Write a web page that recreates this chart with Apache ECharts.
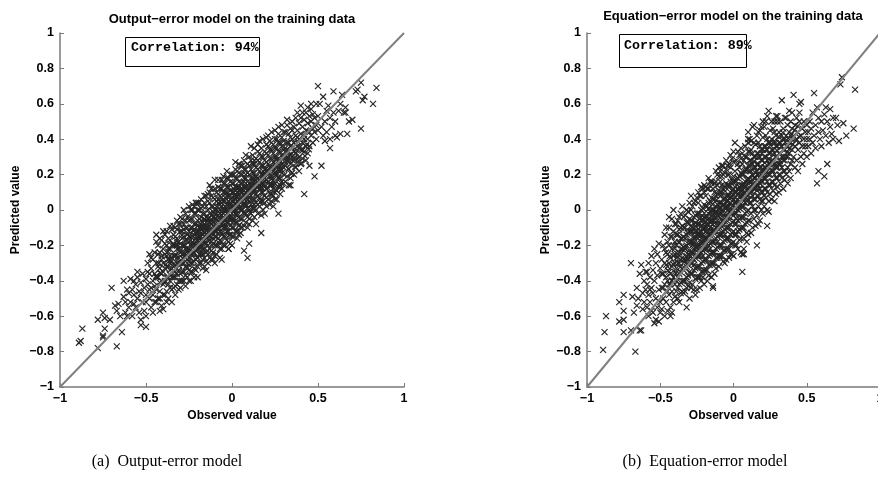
<!DOCTYPE html>
<html>
<head>
<meta charset="utf-8">
<script src="https://cdn.jsdelivr.net/npm/echarts@6/dist/echarts.min.js"></script>
<style>
html,body{margin:0;padding:0;background:#fff;}
#chart{width:878px;height:480px;}
</style>
</head>
<body>
<div id="chart"></div>
<script>
// ---------- DATA ----------
const panelTitles = ['Output\u2212error model on the training data', 'Equation\u2212error model on the training data'];
const captions = ['(a)  Output-error model', '(b)  Equation-error model'];
const correlationTexts = ['Correlation: 94%', 'Correlation: 89%'];
const xAxisName = 'Observed value';
const yAxisName = 'Predicted value';
const xTickValues = [-1, -0.5, 0, 0.5, 1];
const xTickLabels = ['\u22121', '\u22120.5', '0', '0.5', '1'];
const yTickValues = [-1, -0.8, -0.6, -0.4, -0.2, 0, 0.2, 0.4, 0.6, 0.8, 1];
const yTickLabels = ['\u22121', '\u22120.8', '\u22120.6', '\u22120.4', '\u22120.2', '0', '0.2', '0.4', '0.6', '0.8', '1'];
const identityLine = [[-1, -1], [1, 1]];

// Output-error model: [observed, predicted]
const outputErrorPoints = [
[-0.89,-0.75],[-0.88,-0.74],[-0.87,-0.67],[-0.78,-0.78],[-0.78,-0.62],[-0.75,-0.71],[-0.75,-0.72],[-0.75,-0.58],[-0.74,-0.61],[-0.74,-0.67],[-0.71,-0.62],[-0.7,-0.44],[-0.67,-0.77],[-0.67,-0.57],[-0.68,-0.54],[-0.64,-0.69],[-0.63,-0.49],[-0.63,-0.4],[-0.62,-0.58],[-0.61,-0.6],[-0.61,-0.45],[-0.62,-0.52],[-0.6,-0.55],[-0.65,-0.6],[-0.66,-0.53],
[-0.59,-0.52],[-0.58,-0.45],[-0.58,-0.6],[-0.57,-0.48],[-0.57,-0.4],[-0.56,-0.55],[-0.56,-0.42],[-0.55,-0.5],[-0.55,-0.38],[-0.54,-0.58],[-0.54,-0.46],[-0.53,-0.41],[-0.53,-0.62],[-0.52,-0.52],[-0.52,-0.36],[-0.51,-0.44],[-0.51,-0.57],[-0.5,-0.48],[-0.5,-0.39],[-0.5,-0.6],[-0.59,-0.39],[-0.6,-0.47],[-0.55,-0.35],[-0.53,-0.47],[-0.57,-0.53],[-0.5,-0.66],[-0.53,-0.65],
[-0.49,-0.42],[-0.49,-0.3],[-0.48,-0.5],[-0.48,-0.36],[-0.48,-0.25],[-0.47,-0.44],[-0.47,-0.55],[-0.47,-0.33],[-0.46,-0.4],[-0.46,-0.28],[-0.46,-0.48],[-0.45,-0.36],[-0.45,-0.52],[-0.45,-0.24],[-0.49,-0.35],[-0.48,-0.45],[-0.47,-0.27],[-0.46,-0.58],[-0.45,-0.43],[-0.5,-0.52],[-0.44,-0.14],[-0.4,-0.12],
[-0.44,-0.3],[-0.44,-0.45],[-0.44,-0.18],[-0.43,-0.38],[-0.43,-0.5],[-0.43,-0.25],[-0.42,-0.33],[-0.42,-0.16],[-0.42,-0.46],[-0.41,-0.28],[-0.41,-0.4],[-0.41,-0.54],[-0.4,-0.22],[-0.4,-0.35],[-0.4,-0.48],[-0.44,-0.38],[-0.43,-0.2],[-0.42,-0.41],[-0.41,-0.17],[-0.4,-0.3],[-0.4,-0.42],[-0.44,-0.52],[-0.43,-0.32],[-0.42,-0.24],[-0.41,-0.36],[-0.4,-0.56],[-0.42,-0.57],[-0.42,-0.5],
[-0.39,-0.25],[-0.39,-0.4],[-0.39,-0.14],[-0.38,-0.32],[-0.38,-0.46],[-0.38,-0.2],[-0.37,-0.28],[-0.37,-0.38],[-0.37,-0.16],[-0.37,-0.5],[-0.36,-0.22],[-0.36,-0.34],[-0.36,-0.44],[-0.35,-0.11],[-0.35,-0.27],[-0.35,-0.38],[-0.35,-0.52],[-0.39,-0.33],[-0.38,-0.26],[-0.38,-0.12],[-0.37,-0.42],[-0.36,-0.17],[-0.36,-0.3],[-0.35,-0.2],[-0.35,-0.45],[-0.39,-0.48],[-0.38,-0.38],[-0.37,-0.22],[-0.36,-0.4],[-0.36,-0.09],[-0.35,-0.33],[-0.39,-0.19],[-0.38,-0.52],[-0.37,-0.32],[-0.36,-0.26],
[-0.34,-0.2],[-0.34,-0.32],[-0.34,-0.44],[-0.34,-0.09],[-0.33,-0.26],[-0.33,-0.38],[-0.33,-0.15],[-0.33,-0.48],[-0.32,-0.22],[-0.32,-0.3],[-0.32,-0.06],[-0.32,-0.42],[-0.31,-0.18],[-0.31,-0.34],[-0.31,-0.27],[-0.31,-0.45],[-0.3,-0.12],[-0.3,-0.24],[-0.3,-0.36],[-0.3,-0.04],[-0.34,-0.26],[-0.33,-0.31],[-0.33,-0.1],[-0.32,-0.36],[-0.32,-0.16],[-0.31,-0.4],[-0.31,-0.08],[-0.3,-0.3],[-0.3,-0.44],[-0.3,-0.19],[-0.34,-0.38],[-0.33,-0.2],[-0.32,-0.27],[-0.31,-0.22],[-0.3,-0.4],[-0.34,-0.14],[-0.33,-0.43],[-0.32,-0.11],[-0.31,-0.3],[-0.3,-0.08],[-0.32,-0.2],
[-0.29,-0.2],[-0.29,-0.3],[-0.29,-0.05],[-0.29,-0.4],[-0.28,-0.15],[-0.28,-0.25],[-0.28,-0.35],[-0.28,0.0],[-0.27,-0.1],[-0.27,-0.22],[-0.27,-0.32],[-0.27,-0.43],[-0.26,-0.17],[-0.26,-0.28],[-0.26,-0.04],[-0.26,-0.38],[-0.25,-0.12],[-0.25,-0.24],[-0.25,-0.34],[-0.25,0.02],[-0.29,-0.25],[-0.29,-0.12],[-0.28,-0.3],[-0.28,-0.08],[-0.28,-0.4],[-0.27,-0.17],[-0.27,-0.27],[-0.27,-0.02],[-0.26,-0.22],[-0.26,-0.33],[-0.26,-0.1],[-0.25,-0.18],[-0.25,-0.29],[-0.25,-0.06],[-0.25,-0.4],[-0.29,-0.35],[-0.28,-0.2],[-0.27,-0.37],[-0.26,-0.14],[-0.25,-0.22],[-0.29,-0.16],[-0.28,-0.11],[-0.27,-0.06],[-0.26,-0.26],[-0.25,-0.31],
[-0.24,-0.15],[-0.24,-0.25],[-0.24,-0.05],[-0.24,-0.35],[-0.23,-0.1],[-0.23,-0.2],[-0.23,-0.3],[-0.23,0.03],[-0.22,-0.14],[-0.22,-0.24],[-0.22,-0.38],[-0.22,-0.02],[-0.21,-0.08],[-0.21,-0.18],[-0.21,-0.28],[-0.21,0.04],[-0.2,-0.12],[-0.2,-0.22],[-0.2,-0.32],[-0.2,0.0],[-0.24,-0.2],[-0.24,-0.1],[-0.24,-0.3],[-0.23,-0.15],[-0.23,-0.25],[-0.23,-0.05],[-0.22,-0.19],[-0.22,-0.29],[-0.22,-0.08],[-0.21,-0.13],[-0.21,-0.23],[-0.21,-0.34],[-0.21,-0.02],[-0.2,-0.17],[-0.2,-0.27],[-0.2,-0.06],[-0.24,0.0],[-0.23,-0.35],[-0.22,-0.33],[-0.21,0.04],[-0.2,0.04],[-0.2,-0.38],[-0.24,-0.4],[-0.23,-0.18],[-0.22,-0.11],[-0.21,-0.2],[-0.2,-0.15],[-0.22,0.02],[-0.23,0.0],[-0.2,-0.09],
[-0.19,-0.1],[-0.19,-0.2],[-0.19,0.0],[-0.19,-0.3],[-0.18,-0.06],[-0.18,-0.15],[-0.18,-0.25],[-0.18,0.06],[-0.17,-0.12],[-0.17,-0.22],[-0.17,-0.02],[-0.17,-0.33],[-0.16,-0.08],[-0.16,-0.17],[-0.16,-0.27],[-0.16,0.04],[-0.15,-0.04],[-0.15,-0.14],[-0.15,-0.24],[-0.15,0.08],[-0.19,-0.15],[-0.19,-0.05],[-0.19,-0.25],[-0.18,-0.1],[-0.18,-0.2],[-0.18,0.01],[-0.17,-0.17],[-0.17,-0.07],[-0.17,-0.28],[-0.16,-0.13],[-0.16,-0.22],[-0.16,-0.02],[-0.15,-0.1],[-0.15,-0.19],[-0.15,-0.29],[-0.15,0.02],[-0.19,0.04],[-0.18,-0.3],[-0.17,0.02],[-0.16,-0.32],[-0.16,0.08],[-0.15,-0.34],[-0.19,-0.12],[-0.18,-0.17],[-0.17,-0.14],[-0.16,-0.05],[-0.15,-0.07],[-0.18,-0.04],[-0.17,-0.25],[-0.16,-0.19],[-0.19,-0.22],[-0.18,-0.08],[-0.17,-0.1],[-0.16,-0.1],[-0.15,-0.16],
[-0.14,-0.05],[-0.14,-0.15],[-0.14,0.05],[-0.14,-0.25],[-0.13,-0.02],[-0.13,-0.12],[-0.13,-0.22],[-0.13,0.1],[-0.12,-0.08],[-0.12,-0.18],[-0.12,0.02],[-0.12,-0.28],[-0.11,-0.04],[-0.11,-0.14],[-0.11,-0.24],[-0.11,0.07],[-0.1,0.0],[-0.1,-0.1],[-0.1,-0.2],[-0.1,0.12],[-0.14,-0.1],[-0.14,0.0],[-0.14,-0.2],[-0.13,-0.07],[-0.13,-0.17],[-0.13,0.04],[-0.12,-0.13],[-0.12,-0.03],[-0.12,-0.23],[-0.11,-0.09],[-0.11,-0.19],[-0.11,0.02],[-0.1,-0.05],[-0.1,-0.15],[-0.1,-0.26],[-0.1,0.06],[-0.14,-0.3],[-0.13,0.14],[-0.12,0.08],[-0.11,-0.28],[-0.1,0.17],[-0.1,-0.3],[-0.14,-0.08],[-0.13,-0.14],[-0.12,-0.11],[-0.11,-0.01],[-0.1,-0.12],[-0.13,-0.27],[-0.12,0.12],[-0.11,-0.16],[-0.14,0.09],[-0.13,-0.04],[-0.12,-0.06],[-0.11,-0.07],[-0.1,-0.02],
[-0.09,0.0],[-0.09,-0.1],[-0.09,0.1],[-0.09,-0.2],[-0.08,0.04],[-0.08,-0.06],[-0.08,-0.16],[-0.08,0.13],[-0.07,-0.02],[-0.07,-0.12],[-0.07,0.08],[-0.07,-0.22],[-0.06,0.02],[-0.06,-0.08],[-0.06,-0.18],[-0.06,0.12],[-0.05,0.05],[-0.05,-0.05],[-0.05,-0.15],[-0.05,0.15],[-0.09,-0.05],[-0.09,0.05],[-0.09,-0.15],[-0.08,-0.01],[-0.08,-0.11],[-0.08,0.09],[-0.07,-0.07],[-0.07,0.03],[-0.07,-0.17],[-0.06,-0.03],[-0.06,-0.13],[-0.06,0.07],[-0.05,0.0],[-0.05,-0.1],[-0.05,-0.2],[-0.05,0.1],[-0.09,-0.25],[-0.08,0.17],[-0.07,-0.27],[-0.06,0.17],[-0.06,-0.28],[-0.05,0.19],[-0.09,0.02],[-0.08,-0.08],[-0.07,-0.04],[-0.06,-0.05],[-0.05,-0.02],[-0.08,0.06],[-0.07,0.12],[-0.06,-0.22],[-0.09,-0.12],[-0.08,-0.2],[-0.07,0.0],[-0.06,0.04],[-0.05,-0.07],
[-0.04,0.05],[-0.04,-0.05],[-0.04,0.15],[-0.04,-0.15],[-0.03,0.08],[-0.03,-0.02],[-0.03,-0.12],[-0.03,0.18],[-0.02,0.03],[-0.02,-0.07],[-0.02,0.13],[-0.02,-0.22],[-0.01,0.06],[-0.01,-0.04],[-0.01,-0.14],[-0.01,0.16],[0.0,0.1],[0.0,0.0],[0.0,-0.1],[0.0,0.2],[-0.04,0.0],[-0.04,0.1],[-0.04,-0.1],[-0.03,0.03],[-0.03,-0.07],[-0.03,0.13],[-0.02,-0.02],[-0.02,0.08],[-0.02,-0.12],[-0.01,0.01],[-0.01,-0.09],[-0.01,0.11],[0.0,0.05],[0.0,-0.05],[0.0,-0.15],[0.0,0.15],[-0.04,-0.2],[-0.03,0.22],[-0.02,-0.18],[-0.01,0.2],[-0.01,-0.19],[0.0,-0.2],[-0.04,0.07],[-0.03,0.0],[-0.02,0.05],[-0.01,0.03],[0.0,0.02],[-0.03,-0.17],[-0.02,0.18],[-0.01,-0.06],[-0.04,-0.08],[-0.03,0.1],[-0.02,-0.04],[-0.01,0.08],[0.0,-0.02],
[0.01,0.1],[0.01,0.0],[0.01,0.2],[0.01,-0.1],[0.02,0.13],[0.02,0.03],[0.02,-0.07],[0.02,0.23],[0.03,0.08],[0.03,-0.02],[0.03,0.18],[0.03,-0.12],[0.04,0.11],[0.04,0.01],[0.04,-0.09],[0.04,0.21],[0.05,0.15],[0.05,0.05],[0.05,-0.05],[0.05,0.25],[0.01,0.05],[0.01,0.15],[0.01,-0.05],[0.02,0.08],[0.02,-0.02],[0.02,0.18],[0.03,0.03],[0.03,0.13],[0.03,-0.07],[0.04,0.06],[0.04,-0.04],[0.04,0.16],[0.05,0.1],[0.05,0.0],[0.05,-0.1],[0.05,0.2],[0.01,-0.15],[0.02,0.27],[0.03,-0.16],[0.04,0.26],[0.04,-0.14],[0.05,-0.13],[0.01,0.08],[0.02,0.11],[0.03,0.05],[0.04,0.09],[0.05,0.07],[0.02,-0.12],[0.03,0.22],[0.04,0.03],[0.01,0.12],[0.02,0.0],[0.03,0.1],[0.04,0.13],[0.05,0.12],
[0.06,0.15],[0.06,0.05],[0.06,0.25],[0.06,-0.05],[0.07,0.18],[0.07,0.08],[0.07,-0.02],[0.07,0.28],[0.08,0.13],[0.08,0.03],[0.08,0.23],[0.08,-0.07],[0.09,0.16],[0.09,0.06],[0.09,-0.04],[0.09,0.26],[0.1,0.2],[0.1,0.1],[0.1,0.0],[0.1,0.3],[0.06,0.1],[0.06,0.2],[0.06,0.0],[0.07,0.13],[0.07,0.03],[0.07,0.23],[0.08,0.08],[0.08,0.18],[0.08,-0.02],[0.09,0.11],[0.09,0.01],[0.09,0.21],[0.1,0.15],[0.1,0.05],[0.1,-0.05],[0.1,0.25],[0.06,-0.1],[0.07,-0.09],[0.08,0.31],[0.09,-0.1],[0.1,-0.08],[0.06,0.12],[0.07,0.16],[0.08,0.1],[0.09,0.14],[0.1,0.12],[0.07,0.06],[0.08,0.2],[0.09,0.08],[0.06,0.03],[0.07,-0.23],[0.09,-0.27],[0.1,-0.19],[0.17,-0.13],[-0.02,-0.22],[-0.19,-0.21],[-0.32,-0.2],
[0.11,0.18],[0.11,0.08],[0.11,0.28],[0.11,-0.02],[0.12,0.21],[0.12,0.11],[0.12,0.01],[0.12,0.31],[0.13,0.16],[0.13,0.06],[0.13,0.26],[0.13,-0.04],[0.14,0.19],[0.14,0.09],[0.14,0.29],[0.14,0.0],[0.15,0.23],[0.15,0.13],[0.15,0.03],[0.15,0.33],[0.11,0.13],[0.11,0.23],[0.12,0.16],[0.12,0.06],[0.12,0.26],[0.13,0.11],[0.13,0.21],[0.13,0.01],[0.14,0.14],[0.14,0.24],[0.14,0.04],[0.15,0.18],[0.15,0.08],[0.15,0.28],[0.11,0.36],[0.12,-0.06],[0.13,0.35],[0.14,-0.08],[0.15,-0.02],[0.11,0.03],[0.12,0.18],[0.13,0.14],[0.14,0.17],[0.15,0.37],[0.13,0.28],
[0.16,0.22],[0.16,0.12],[0.16,0.32],[0.16,0.02],[0.17,0.25],[0.17,0.15],[0.17,0.05],[0.17,0.35],[0.18,0.2],[0.18,0.1],[0.18,0.3],[0.18,0.0],[0.19,0.23],[0.19,0.13],[0.19,0.33],[0.19,0.04],[0.2,0.27],[0.2,0.17],[0.2,0.07],[0.2,0.37],[0.16,0.17],[0.16,0.27],[0.16,0.07],[0.17,0.2],[0.17,0.3],[0.17,0.1],[0.18,0.15],[0.18,0.25],[0.18,0.05],[0.19,0.18],[0.19,0.28],[0.19,0.08],[0.2,0.22],[0.2,0.12],[0.2,0.32],[0.16,0.39],[0.17,-0.03],[0.18,0.4],[0.19,-0.02],[0.2,0.41],[0.2,0.02],[0.17,0.13],[0.18,0.22],[0.19,0.2],[0.16,0.14],
[0.21,0.26],[0.21,0.16],[0.21,0.36],[0.21,0.06],[0.22,0.29],[0.22,0.19],[0.22,0.09],[0.22,0.39],[0.23,0.24],[0.23,0.14],[0.23,0.34],[0.23,0.05],[0.24,0.27],[0.24,0.17],[0.24,0.37],[0.24,0.08],[0.25,0.3],[0.25,0.2],[0.25,0.1],[0.25,0.4],[0.21,0.21],[0.21,0.31],[0.22,0.24],[0.22,0.14],[0.22,0.34],[0.23,0.19],[0.23,0.29],[0.23,0.09],[0.24,0.22],[0.24,0.32],[0.24,0.12],[0.25,0.25],[0.25,0.35],[0.25,0.15],[0.21,0.42],[0.22,0.03],[0.23,0.44],[0.24,0.02],[0.25,0.45],[0.25,0.06],
[0.26,0.3],[0.26,0.2],[0.26,0.4],[0.26,0.11],[0.27,0.33],[0.27,0.23],[0.27,0.13],[0.27,0.43],[0.28,0.28],[0.28,0.18],[0.28,0.38],[0.28,0.09],[0.29,0.31],[0.29,0.21],[0.29,0.41],[0.29,0.12],[0.3,0.34],[0.3,0.24],[0.3,0.15],[0.3,0.44],[0.26,0.25],[0.26,0.35],[0.27,0.28],[0.27,0.18],[0.27,0.38],[0.28,0.23],[0.28,0.33],[0.28,0.14],[0.29,0.26],[0.29,0.36],[0.3,0.29],[0.3,0.39],[0.27,0.47],[0.29,0.48],[0.26,0.06],[0.27,-0.02],
[0.31,0.35],[0.31,0.25],[0.31,0.44],[0.31,0.16],[0.32,0.38],[0.32,0.28],[0.32,0.19],[0.32,0.48],[0.33,0.33],[0.33,0.23],[0.33,0.43],[0.33,0.14],[0.34,0.36],[0.34,0.26],[0.34,0.46],[0.34,0.18],[0.35,0.4],[0.35,0.3],[0.35,0.21],[0.35,0.5],[0.31,0.3],[0.32,0.33],[0.32,0.51],[0.33,0.38],[0.33,0.28],[0.34,0.31],[0.34,0.41],[0.35,0.35],[0.35,0.45],[0.34,0.14],
[0.36,0.38],[0.36,0.28],[0.36,0.47],[0.36,0.2],[0.37,0.42],[0.37,0.32],[0.37,0.52],[0.37,0.24],[0.38,0.36],[0.38,0.45],[0.38,0.27],[0.38,0.55],[0.39,0.4],[0.39,0.3],[0.39,0.49],[0.39,0.22],[0.4,0.43],[0.4,0.34],[0.4,0.52],[0.4,0.26],[0.36,0.33],[0.37,0.37],[0.38,0.41],[0.39,0.35],[0.4,0.59],
[0.41,0.38],[0.41,0.47],[0.41,0.29],[0.41,0.55],[0.42,0.42],[0.42,0.33],[0.42,0.51],[0.43,0.45],[0.43,0.36],[0.43,0.55],[0.43,0.28],[0.44,0.4],[0.44,0.49],[0.44,0.32],[0.45,0.44],[0.45,0.53],[0.45,0.36],[0.42,0.09],[0.44,0.58],[0.45,0.25],
[0.46,0.42],[0.46,0.5],[0.46,0.57],[0.47,0.46],[0.47,0.38],[0.47,0.54],[0.48,0.44],[0.48,0.52],[0.48,0.19],[0.49,0.4],[0.49,0.48],[0.49,0.6],[0.5,0.45],[0.5,0.7],[0.5,0.53],[0.46,0.6],
[0.51,0.6],[0.52,0.25],[0.52,0.47],[0.53,0.64],[0.53,0.42],[0.54,0.39],[0.54,0.5],[0.55,0.56],[0.55,0.44],[0.56,0.59],[0.57,0.35],[0.57,0.4],[0.57,0.52],[0.58,0.47],[0.59,0.67],[0.59,0.55],[0.6,0.42],[0.6,0.5],
[0.61,0.41],[0.62,0.56],[0.63,0.43],[0.63,0.6],[0.65,0.55],[0.66,0.58],[0.67,0.43],[0.68,0.5],[0.7,0.51],[0.72,0.67],[0.73,0.68],[0.75,0.72],[0.75,0.46],[0.76,0.62],[0.77,0.64],[0.82,0.6],[0.84,0.69],[0.66,0.55],[0.64,0.65],
[-0.441,-0.372],[-0.426,-0.301],[-0.417,-0.356],[-0.409,-0.262],[-0.392,-0.411],[-0.386,-0.309],[-0.371,-0.235],[-0.362,-0.362],[-0.355,-0.284],[-0.343,-0.193],[-0.334,-0.351],[-0.329,-0.251],[-0.321,-0.176],[-0.307,-0.315],[-0.296,-0.224],[-0.291,-0.143],[-0.286,-0.274],[-0.274,-0.199],[-0.265,-0.321],[-0.261,-0.236],[-0.249,-0.148],[-0.244,-0.273],[-0.233,-0.184],[-0.228,-0.116],[-0.221,-0.243],[-0.209,-0.164],[-0.203,-0.266],[-0.197,-0.175],[-0.186,-0.097],[-0.181,-0.211],[-0.174,-0.134],[-0.161,-0.055],[-0.156,-0.183],[-0.147,-0.116],[-0.143,-0.229],[-0.131,-0.148],[-0.124,-0.071],[-0.119,-0.196],[-0.107,-0.114],[-0.103,-0.037],[-0.092,-0.149],[-0.088,-0.084],[-0.077,-0.184],[-0.073,-0.106],[-0.062,-0.026],[-0.058,-0.139],[-0.046,-0.058],[-0.042,0.021],[-0.034,-0.096],[-0.023,-0.021],[-0.017,-0.141],[-0.012,-0.049],[-0.003,0.037],[0.007,-0.066],[0.012,0.015],[0.022,0.084],[0.029,-0.034],[0.034,0.051],[0.044,-0.083],[0.049,0.017],[0.057,0.096],[0.067,-0.015],[0.072,0.064],[0.082,0.133],[0.087,0.027],[0.094,0.106],[0.104,-0.014],[0.112,0.064],[0.116,0.145],[0.127,0.033],[0.134,0.116],[0.139,0.185],[0.149,0.076],[0.154,0.149],[0.164,0.044],[0.169,0.121],[0.177,0.196],[0.187,0.081],[0.192,0.165],[0.199,0.233],[0.209,0.124],[0.214,0.207],[0.224,0.093],[0.229,0.174],[0.239,0.243],[0.244,0.141],[0.254,0.216],[0.259,0.284],[0.269,0.184],[0.274,0.253],[0.284,0.154],[0.289,0.226],[0.299,0.295],[0.304,0.197],[0.314,0.265],[0.319,0.342],[0.329,0.233],[0.334,0.312],[0.344,0.204],[0.349,0.282],[0.357,0.355],[0.367,0.245],[0.372,0.324],[0.382,0.388],[0.387,0.292],[0.397,0.358],[0.404,0.265],[0.409,0.336],[0.419,0.401],[0.424,0.305],[0.434,0.371],[0.439,0.446],[0.447,0.343],
[-0.153,-0.087],[-0.138,-0.046],[-0.084,-0.032],[-0.069,0.046],[0.016,0.062],[0.063,0.117],[0.091,0.057],[0.121,0.098],[0.182,0.142],[0.226,0.148],[-0.231,-0.212],[-0.276,-0.262],[-0.198,-0.131],[-0.052,0.008],[0.147,0.128],[0.277,0.219],[0.324,0.296],[0.366,0.297],[-0.341,-0.307],[-0.372,-0.276]
];

// Equation-error model: [observed, predicted]
const equationErrorPoints = [
[-0.89,-0.79],[-0.88,-0.69],[-0.87,-0.6],[-0.78,-0.63],[-0.75,-0.69],[-0.75,-0.62],[-0.75,-0.57],[-0.78,-0.52],[-0.75,-0.48],[-0.7,-0.3],[-0.68,-0.58],[-0.69,-0.49],[-0.67,-0.8],[-0.64,-0.68],[-0.7,-0.68],[-0.63,-0.31],[-0.64,-0.36],[-0.66,-0.44],[-0.61,-0.52],[-0.65,-0.5],[-0.62,-0.47],[-0.63,-0.68],[-0.66,-0.54],[-0.61,-0.4],[-0.62,-0.56],[-0.6,-0.45],[-0.6,-0.35],
[-0.59,-0.42],[-0.59,-0.55],[-0.58,-0.3],[-0.58,-0.48],[-0.58,-0.6],[-0.57,-0.38],[-0.57,-0.52],[-0.56,-0.26],[-0.56,-0.44],[-0.56,-0.57],[-0.55,-0.34],[-0.55,-0.47],[-0.54,-0.22],[-0.54,-0.4],[-0.54,-0.64],[-0.53,-0.5],[-0.53,-0.3],[-0.53,-0.62],[-0.52,-0.37],[-0.52,-0.55],[-0.52,-0.25],[-0.51,-0.45],[-0.51,-0.19],[-0.51,-0.63],[-0.5,-0.33],[-0.5,-0.52],[-0.5,-0.58],[-0.55,-0.58],[-0.57,-0.45],[-0.59,-0.35],
[-0.49,-0.28],[-0.49,-0.44],[-0.49,-0.56],[-0.48,-0.2],[-0.48,-0.36],[-0.48,-0.5],[-0.47,-0.14],[-0.47,-0.3],[-0.47,-0.42],[-0.47,-0.6],[-0.46,-0.24],[-0.46,-0.38],[-0.46,-0.52],[-0.46,-0.1],[-0.45,-0.32],[-0.45,-0.46],[-0.45,-0.18],[-0.45,-0.57],[-0.49,-0.36],[-0.48,-0.44],[-0.47,-0.22],[-0.46,-0.31],[-0.45,-0.4],[-0.44,-0.04],[-0.45,-0.25],
[-0.44,-0.2],[-0.44,-0.35],[-0.44,-0.48],[-0.44,-0.1],[-0.43,-0.27],[-0.43,-0.42],[-0.43,-0.55],[-0.43,-0.15],[-0.42,-0.32],[-0.42,-0.22],[-0.42,-0.46],[-0.42,-0.05],[-0.41,-0.38],[-0.41,-0.26],[-0.41,-0.12],[-0.41,-0.52],[-0.4,-0.3],[-0.4,-0.18],[-0.4,-0.42],[-0.4,-0.08],[-0.44,-0.3],[-0.43,-0.36],[-0.42,-0.4],[-0.42,-0.58],[-0.41,-0.2],[-0.4,-0.35],[-0.4,-0.49],[-0.43,-0.6],[-0.41,0.0],[-0.44,-0.42],[-0.42,-0.15],[-0.4,-0.25],
[-0.39,-0.2],[-0.39,-0.33],[-0.39,-0.46],[-0.39,-0.08],[-0.38,-0.25],[-0.38,-0.38],[-0.38,-0.14],[-0.38,-0.5],[-0.37,-0.3],[-0.37,-0.18],[-0.37,-0.42],[-0.37,-0.04],[-0.36,-0.22],[-0.36,-0.35],[-0.36,-0.1],[-0.36,-0.47],[-0.35,-0.27],[-0.35,-0.16],[-0.35,-0.4],[-0.35,0.02],[-0.39,-0.27],[-0.39,-0.4],[-0.38,-0.3],[-0.38,-0.06],[-0.37,-0.24],[-0.37,-0.36],[-0.37,-0.52],[-0.36,-0.28],[-0.36,-0.16],[-0.35,-0.33],[-0.35,-0.22],[-0.35,-0.46],[-0.39,-0.14],[-0.38,-0.44],[-0.37,-0.11],[-0.36,-0.41],[-0.35,-0.09],[-0.36,-0.02],
[-0.34,-0.15],[-0.34,-0.28],[-0.34,-0.4],[-0.34,-0.04],[-0.33,-0.22],[-0.33,-0.33],[-0.33,-0.1],[-0.33,-0.46],[-0.32,-0.26],[-0.32,-0.14],[-0.32,-0.38],[-0.32,0.0],[-0.31,-0.19],[-0.31,-0.31],[-0.31,-0.07],[-0.31,-0.43],[-0.3,-0.23],[-0.3,-0.12],[-0.3,-0.35],[-0.3,0.04],[-0.34,-0.21],[-0.34,-0.34],[-0.33,-0.16],[-0.33,-0.28],[-0.33,-0.4],[-0.32,-0.2],[-0.32,-0.32],[-0.32,-0.07],[-0.31,-0.25],[-0.31,-0.13],[-0.31,-0.37],[-0.3,-0.29],[-0.3,-0.17],[-0.3,-0.41],[-0.3,-0.05],[-0.34,-0.1],[-0.33,-0.03],[-0.32,-0.44],[-0.31,-0.01],[-0.3,-0.5],[-0.32,-0.55],[-0.34,-0.47],[-0.33,-0.22],[-0.31,-0.28],[-0.3,-0.26],
[-0.29,-0.12],[-0.29,-0.24],[-0.29,-0.36],[-0.29,0.0],[-0.28,-0.18],[-0.28,-0.3],[-0.28,-0.06],[-0.28,-0.42],[-0.27,-0.22],[-0.27,-0.1],[-0.27,-0.34],[-0.27,0.04],[-0.26,-0.15],[-0.26,-0.27],[-0.26,-0.03],[-0.26,-0.39],[-0.25,-0.2],[-0.25,-0.08],[-0.25,-0.32],[-0.25,0.07],[-0.29,-0.18],[-0.29,-0.3],[-0.29,-0.06],[-0.28,-0.24],[-0.28,-0.12],[-0.28,-0.36],[-0.27,-0.16],[-0.27,-0.28],[-0.27,-0.04],[-0.26,-0.21],[-0.26,-0.09],[-0.26,-0.33],[-0.25,-0.26],[-0.25,-0.14],[-0.25,-0.38],[-0.25,-0.02],[-0.29,-0.44],[-0.28,0.02],[-0.27,-0.45],[-0.26,0.05],[-0.25,-0.45],[-0.26,-0.48],[-0.29,-0.09],[-0.28,-0.2],[-0.27,-0.19],[-0.26,-0.12],[-0.25,-0.23],[-0.27,-0.31],[-0.28,-0.27],[-0.29,0.08],
[-0.24,-0.08],[-0.24,-0.2],[-0.24,-0.32],[-0.24,0.04],[-0.23,-0.14],[-0.23,-0.26],[-0.23,-0.02],[-0.23,-0.38],[-0.22,-0.18],[-0.22,-0.06],[-0.22,-0.3],[-0.22,0.08],[-0.21,-0.11],[-0.21,-0.23],[-0.21,0.01],[-0.21,-0.35],[-0.2,-0.16],[-0.2,-0.04],[-0.2,-0.28],[-0.2,0.1],[-0.24,-0.14],[-0.24,-0.26],[-0.24,-0.02],[-0.23,-0.2],[-0.23,-0.08],[-0.23,-0.32],[-0.22,-0.12],[-0.22,-0.24],[-0.22,0.0],[-0.21,-0.17],[-0.21,-0.05],[-0.21,-0.29],[-0.2,-0.22],[-0.2,-0.1],[-0.2,-0.34],[-0.2,0.03],[-0.24,-0.38],[-0.23,0.08],[-0.22,-0.4],[-0.21,0.12],[-0.2,-0.42],[-0.22,0.13],[-0.24,0.1],[-0.23,-0.44],[-0.21,-0.38],[-0.2,0.14],[-0.24,-0.11],[-0.23,-0.17],[-0.22,-0.09],[-0.21,-0.14],[-0.2,-0.19],[-0.22,-0.35],[-0.21,-0.26],[-0.23,-0.05],[-0.2,-0.07],
[-0.19,-0.04],[-0.19,-0.16],[-0.19,-0.28],[-0.19,0.08],[-0.18,-0.1],[-0.18,-0.22],[-0.18,0.02],[-0.18,-0.34],[-0.17,-0.14],[-0.17,-0.02],[-0.17,-0.26],[-0.17,0.12],[-0.16,-0.07],[-0.16,-0.19],[-0.16,0.05],[-0.16,-0.31],[-0.15,-0.12],[-0.15,0.0],[-0.15,-0.24],[-0.15,0.15],[-0.19,-0.1],[-0.19,-0.22],[-0.19,0.02],[-0.18,-0.16],[-0.18,-0.04],[-0.18,-0.28],[-0.17,-0.08],[-0.17,-0.2],[-0.17,0.04],[-0.16,-0.13],[-0.16,-0.01],[-0.16,-0.25],[-0.15,-0.18],[-0.15,-0.06],[-0.15,-0.3],[-0.15,0.07],[-0.19,-0.34],[-0.18,0.12],[-0.17,-0.37],[-0.16,0.16],[-0.15,-0.38],[-0.14,-0.44],[-0.15,0.16],[-0.19,0.13],[-0.18,-0.4],[-0.17,0.18],[-0.19,-0.07],[-0.18,-0.13],[-0.17,-0.05],[-0.16,-0.1],[-0.15,-0.15],[-0.17,-0.31],[-0.16,-0.22],[-0.18,-0.19],[-0.15,-0.03],
[-0.14,0.0],[-0.14,-0.12],[-0.14,-0.24],[-0.14,0.12],[-0.13,-0.06],[-0.13,-0.18],[-0.13,0.06],[-0.13,-0.3],[-0.12,-0.1],[-0.12,0.02],[-0.12,-0.22],[-0.12,0.16],[-0.11,-0.03],[-0.11,-0.15],[-0.11,0.09],[-0.11,-0.27],[-0.1,-0.08],[-0.1,0.04],[-0.1,-0.2],[-0.1,0.19],[-0.14,-0.06],[-0.14,-0.18],[-0.14,0.06],[-0.13,-0.12],[-0.13,0.0],[-0.13,-0.24],[-0.12,-0.04],[-0.12,-0.16],[-0.12,0.08],[-0.11,-0.09],[-0.11,0.03],[-0.11,-0.21],[-0.1,-0.14],[-0.1,-0.02],[-0.1,-0.26],[-0.1,0.11],[-0.14,-0.3],[-0.13,0.15],[-0.12,-0.33],[-0.11,0.2],[-0.1,-0.32],[-0.14,-0.43],[-0.12,0.22],[-0.13,-0.36],[-0.11,0.14],[-0.1,0.24],[-0.14,-0.03],[-0.13,-0.09],[-0.12,-0.01],[-0.11,-0.06],[-0.1,-0.11],[-0.12,-0.27],[-0.11,-0.18],[-0.13,0.1],[-0.1,0.01],
[-0.09,0.04],[-0.09,-0.08],[-0.09,-0.2],[-0.09,0.16],[-0.08,-0.02],[-0.08,-0.14],[-0.08,0.1],[-0.08,-0.26],[-0.07,-0.06],[-0.07,0.06],[-0.07,-0.18],[-0.07,0.2],[-0.06,0.01],[-0.06,-0.11],[-0.06,0.13],[-0.06,-0.23],[-0.05,-0.04],[-0.05,0.08],[-0.05,-0.16],[-0.05,0.23],[-0.09,-0.02],[-0.09,-0.14],[-0.09,0.1],[-0.08,-0.08],[-0.08,0.04],[-0.08,-0.2],[-0.07,0.0],[-0.07,-0.12],[-0.07,0.12],[-0.06,-0.05],[-0.06,0.07],[-0.06,-0.17],[-0.05,-0.1],[-0.05,0.02],[-0.05,-0.22],[-0.05,0.15],[-0.09,-0.26],[-0.08,0.25],[-0.07,-0.29],[-0.06,0.21],[-0.05,-0.28],[-0.07,0.25],[-0.08,0.19],[-0.09,0.22],[-0.06,-0.3],[-0.05,0.28],[-0.09,0.01],[-0.08,-0.05],[-0.07,0.03],[-0.06,-0.02],[-0.05,-0.07],[-0.07,-0.23],[-0.06,-0.14],[-0.08,0.14],[-0.05,0.05],
[-0.04,0.08],[-0.04,-0.04],[-0.04,-0.16],[-0.04,0.2],[-0.03,0.02],[-0.03,-0.1],[-0.03,0.14],[-0.03,-0.22],[-0.02,-0.02],[-0.02,0.1],[-0.02,-0.14],[-0.02,0.24],[-0.01,0.05],[-0.01,-0.07],[-0.01,0.17],[-0.01,-0.19],[0.0,0.0],[0.0,0.12],[0.0,-0.12],[0.0,0.27],[-0.04,0.02],[-0.04,-0.1],[-0.04,0.14],[-0.03,-0.04],[-0.03,0.08],[-0.03,-0.16],[-0.02,0.04],[-0.02,-0.08],[-0.02,0.16],[-0.01,-0.01],[-0.01,0.11],[-0.01,-0.13],[0.0,0.06],[0.0,-0.06],[0.0,0.19],[0.0,-0.18],[-0.04,-0.22],[-0.03,0.26],[-0.02,-0.25],[-0.01,0.29],[0.0,-0.26],[0.01,0.38],[-0.02,0.31],[-0.04,0.25],[0.0,0.33],[-0.03,-0.27],[-0.04,0.05],[-0.03,-0.01],[-0.02,0.07],[-0.01,0.02],[0.0,0.09],[-0.02,-0.19],[-0.01,-0.25],[-0.03,0.2],[0.0,-0.03],
[0.01,0.1],[0.01,-0.02],[0.01,-0.14],[0.01,0.22],[0.02,0.04],[0.02,-0.08],[0.02,0.16],[0.02,-0.2],[0.03,0.0],[0.03,0.12],[0.03,-0.12],[0.03,0.26],[0.04,0.07],[0.04,-0.05],[0.04,0.19],[0.04,-0.17],[0.05,0.02],[0.05,0.14],[0.05,-0.1],[0.05,0.29],[0.01,0.04],[0.01,-0.08],[0.01,0.16],[0.02,-0.02],[0.02,0.1],[0.02,-0.14],[0.03,0.06],[0.03,-0.06],[0.03,0.18],[0.04,0.01],[0.04,0.13],[0.04,-0.11],[0.05,0.08],[0.05,-0.04],[0.05,0.21],[0.05,-0.16],[0.01,-0.2],[0.02,0.28],[0.03,-0.22],[0.04,0.31],[0.05,-0.24],[0.06,-0.25],[0.07,-0.25],[0.06,-0.35],[0.03,0.33],[0.05,0.35],[0.01,0.07],[0.02,0.01],[0.03,0.09],[0.04,0.04],[0.05,0.11],[0.02,-0.05],[0.04,0.24],[0.01,0.13],[0.03,0.03],
[0.06,0.14],[0.06,0.02],[0.06,-0.1],[0.06,0.26],[0.07,0.08],[0.07,-0.04],[0.07,0.2],[0.07,-0.16],[0.08,0.04],[0.08,0.16],[0.08,-0.08],[0.08,0.3],[0.09,0.11],[0.09,-0.01],[0.09,0.23],[0.09,-0.13],[0.1,0.06],[0.1,0.18],[0.1,-0.06],[0.1,0.33],[0.06,0.08],[0.06,0.2],[0.06,-0.04],[0.07,0.02],[0.07,0.14],[0.07,-0.1],[0.08,0.1],[0.08,-0.02],[0.08,0.22],[0.09,0.05],[0.09,0.17],[0.09,-0.07],[0.1,0.12],[0.1,0.0],[0.1,0.25],[0.06,0.32],[0.07,-0.22],[0.08,0.36],[0.09,-0.18],[0.1,0.38],[0.1,0.4],[0.1,-0.14],[0.06,0.11],[0.07,0.05],[0.08,0.13],[0.09,0.08],[0.1,0.15],[0.07,0.28],[0.08,0.07],[0.09,0.3],
[0.11,0.16],[0.11,0.04],[0.11,0.28],[0.11,-0.06],[0.12,0.1],[0.12,0.22],[0.12,-0.02],[0.12,0.34],[0.13,0.14],[0.13,0.02],[0.13,0.26],[0.13,-0.1],[0.14,0.18],[0.14,0.06],[0.14,0.3],[0.14,-0.05],[0.15,0.12],[0.15,0.24],[0.15,0.0],[0.15,0.37],[0.11,0.1],[0.11,0.22],[0.12,0.16],[0.12,0.04],[0.12,0.28],[0.13,0.08],[0.13,0.2],[0.13,0.32],[0.14,0.12],[0.14,0.24],[0.14,0.0],[0.15,0.18],[0.15,0.06],[0.15,0.3],[0.11,0.4],[0.12,-0.13],[0.13,0.47],[0.14,0.48],[0.15,-0.09],[0.16,-0.2],[0.1,0.44],[0.11,0.33],[0.12,0.07],[0.13,0.17],[0.14,0.15],[0.15,0.21],[0.12,0.39],[0.14,0.38],
[0.16,0.2],[0.16,0.08],[0.16,0.32],[0.16,-0.03],[0.17,0.14],[0.17,0.26],[0.17,0.02],[0.17,0.38],[0.18,0.18],[0.18,0.06],[0.18,0.3],[0.18,-0.06],[0.19,0.22],[0.19,0.1],[0.19,0.34],[0.19,0.0],[0.2,0.16],[0.2,0.28],[0.2,0.05],[0.2,0.41],[0.16,0.14],[0.16,0.26],[0.17,0.2],[0.17,0.08],[0.17,0.32],[0.18,0.12],[0.18,0.24],[0.18,0.36],[0.19,0.16],[0.19,0.28],[0.19,0.05],[0.2,0.22],[0.2,0.1],[0.2,0.34],[0.16,0.42],[0.17,-0.08],[0.18,0.45],[0.19,0.47],[0.2,-0.02],[0.2,0.5],[0.17,0.44],[0.18,0.15],[0.19,0.2],[0.16,0.11],[0.2,0.19],
[0.21,0.24],[0.21,0.12],[0.21,0.36],[0.21,0.02],[0.22,0.18],[0.22,0.3],[0.22,0.07],[0.22,0.42],[0.23,0.22],[0.23,0.1],[0.23,0.34],[0.23,0.0],[0.24,0.26],[0.24,0.14],[0.24,0.38],[0.24,0.05],[0.25,0.2],[0.25,0.32],[0.25,0.09],[0.25,0.45],[0.21,0.18],[0.21,0.3],[0.22,0.24],[0.22,0.12],[0.22,0.36],[0.23,0.16],[0.23,0.28],[0.23,0.4],[0.24,0.2],[0.24,0.32],[0.25,0.26],[0.25,0.14],[0.21,0.47],[0.22,0.5],[0.23,0.53],[0.24,0.56],[0.23,-0.09],[0.24,-0.01],[0.25,0.38],[0.21,0.08],
[0.26,0.28],[0.26,0.16],[0.26,0.4],[0.26,0.06],[0.27,0.22],[0.27,0.34],[0.27,0.11],[0.27,0.46],[0.28,0.26],[0.28,0.14],[0.28,0.38],[0.28,0.05],[0.29,0.3],[0.29,0.18],[0.29,0.42],[0.29,0.09],[0.3,0.24],[0.3,0.36],[0.3,0.13],[0.3,0.5],[0.26,0.22],[0.26,0.34],[0.27,0.28],[0.27,0.16],[0.28,0.32],[0.28,0.2],[0.28,0.44],[0.29,0.24],[0.29,0.36],[0.3,0.3],[0.3,0.18],[0.3,0.53],[0.29,0.53],[0.28,0.5],[0.26,0.5],
[0.31,0.32],[0.31,0.2],[0.31,0.44],[0.31,0.1],[0.32,0.26],[0.32,0.38],[0.32,0.15],[0.32,0.5],[0.33,0.3],[0.33,0.18],[0.33,0.42],[0.33,0.62],[0.34,0.34],[0.34,0.22],[0.34,0.46],[0.34,0.12],[0.35,0.28],[0.35,0.4],[0.35,0.17],[0.35,0.52],[0.31,0.26],[0.31,0.38],[0.32,0.32],[0.32,0.2],[0.33,0.36],[0.33,0.24],[0.34,0.28],[0.34,0.4],[0.35,0.34],[0.35,0.22],
[0.36,0.3],[0.36,0.42],[0.36,0.2],[0.36,0.52],[0.37,0.36],[0.37,0.24],[0.37,0.48],[0.37,0.15],[0.38,0.32],[0.38,0.44],[0.38,0.22],[0.38,0.56],[0.39,0.38],[0.39,0.26],[0.39,0.5],[0.39,0.18],[0.4,0.34],[0.4,0.46],[0.4,0.28],[0.4,0.55],[0.36,0.36],[0.37,0.3],[0.38,0.38],[0.39,0.42],[0.4,0.4],
[0.41,0.3],[0.41,0.42],[0.41,0.65],[0.42,0.36],[0.42,0.24],[0.42,0.48],[0.43,0.4],[0.43,0.28],[0.43,0.52],[0.44,0.34],[0.44,0.44],[0.44,0.22],[0.45,0.38],[0.45,0.5],[0.45,0.6],[0.46,0.3],[0.46,0.42],[0.46,0.61],[0.47,0.36],[0.47,0.46],[0.47,0.26],[0.48,0.4],[0.48,0.5],[0.48,0.32],[0.49,0.44],[0.49,0.36],[0.5,0.4],[0.5,0.48],[0.5,0.3],[0.45,0.55],
[0.51,0.36],[0.51,0.44],[0.52,0.5],[0.52,0.4],[0.53,0.46],[0.53,0.32],[0.54,0.38],[0.54,0.55],[0.55,0.66],[0.55,0.42],[0.56,0.48],[0.56,0.35],[0.57,0.15],[0.58,0.22],[0.58,0.44],[0.58,0.52],[0.59,0.4],[0.6,0.5],[0.6,0.36],[0.57,0.58],
[0.61,0.45],[0.62,0.19],[0.62,0.54],[0.63,0.42],[0.64,0.26],[0.64,0.5],[0.65,0.38],[0.66,0.57],[0.66,0.47],[0.67,0.43],[0.68,0.4],[0.68,0.52],[0.7,0.52],[0.71,0.48],[0.72,0.39],[0.73,0.71],[0.74,0.75],[0.75,0.49],[0.77,0.42],[0.82,0.46],[0.83,0.68],[0.63,0.58],
[-0.447,-0.341],[-0.436,-0.262],[-0.421,-0.398],[-0.413,-0.305],[-0.402,-0.218],[-0.394,-0.357],[-0.381,-0.266],[-0.373,-0.186],[-0.364,-0.323],[-0.352,-0.241],[-0.343,-0.152],[-0.337,-0.294],[-0.326,-0.207],[-0.314,-0.128],[-0.306,-0.271],[-0.297,-0.183],[-0.286,-0.098],[-0.278,-0.242],[-0.267,-0.154],[-0.259,-0.072],[-0.248,-0.213],[-0.239,-0.126],[-0.227,-0.043],[-0.219,-0.191],[-0.208,-0.102],[-0.199,-0.018],[-0.191,-0.164],[-0.182,-0.077],[-0.171,0.006],[-0.163,-0.139],[-0.152,-0.054],[-0.144,0.031],[-0.133,-0.112],[-0.124,-0.026],[-0.116,0.057],[-0.104,-0.088],[-0.096,0.003],[-0.087,0.082],[-0.076,-0.062],[-0.068,0.027],[-0.057,0.107],[-0.049,-0.038],[-0.038,0.052],[-0.029,0.131],[-0.021,-0.011],[-0.009,0.076],[-0.002,0.158],[0.008,0.013],[0.017,0.101],[0.026,0.181],[0.037,0.038],[0.046,0.124],[0.054,0.207],[0.063,0.064],[0.074,0.148],[0.082,0.229],[0.091,0.087],[0.103,0.171],[0.112,0.252],[0.119,0.109],[0.131,0.196],[0.139,0.274],[0.148,0.134],[0.157,0.219],[0.168,0.297],[0.176,0.158],[0.187,0.244],[0.194,0.321],[0.206,0.181],[0.213,0.266],[0.224,0.343],[0.232,0.206],[0.243,0.288],[0.251,0.367],[0.262,0.228],[0.271,0.312],[0.279,0.391],[0.288,0.253],[0.297,0.336],[0.308,0.414],[0.316,0.276],[0.327,0.358],[0.336,0.437],[0.344,0.301],[0.353,0.383],[0.366,0.324],[0.374,0.406],[0.383,0.347],[0.396,0.429],[0.404,0.369],[0.417,0.451],[0.426,0.392],[0.438,0.474],[0.447,0.414],
[-0.273,-0.183],[-0.231,-0.148],[-0.184,-0.119],[-0.142,-0.081],[-0.093,-0.046],[-0.047,0.012],[0.012,0.047],[0.058,0.093],[0.108,0.128],[0.161,0.172],[0.213,0.221],[0.266,0.264]
];

// ---------- CHART ----------
const chart = echarts.init(document.getElementById('chart'), null, {renderer: 'canvas'});
const SANS = '"Liberation Sans", Arial, Helvetica, sans-serif';
const MONO = '"Liberation Mono", "Courier New", monospace';
const SERIF = '"Liberation Serif", "Times New Roman", serif';
const AXIS_GRAY = '#7a7a7a';
const MARK_COLOR = '#262626';

function tickLabel(values, labels) {
  return function (v) {
    for (let i = 0; i < values.length; i++) {
      if (Math.abs(values[i] - v) < 1e-6) return labels[i];
    }
    return '';
  };
}

const grids = [
  {left: 60, top: 33, width: 344, height: 354, containLabel: false, outerBoundsMode: 'none'},
  {left: 587, top: 33, width: 293, height: 354, containLabel: false, outerBoundsMode: 'none'}
];

function makeX(i) {
  return {
    type: 'value', gridIndex: i, min: -1, max: 1, interval: 0.5,
    name: xAxisName, nameLocation: 'middle', nameGap: 23,
    nameTextStyle: {fontFamily: SANS, fontWeight: 'bold', fontSize: 12, color: '#000'},
    axisLine: {show: true, onZero: false, lineStyle: {color: AXIS_GRAY, width: 1.5}},
    axisTick: {show: true, inside: true, length: 4, lineStyle: {color: AXIS_GRAY, width: 1}},
    axisLabel: {fontFamily: SANS, fontWeight: 'bold', fontSize: 12.5, color: '#000', margin: 5,
      formatter: tickLabel(xTickValues, xTickLabels), showMinLabel: true, showMaxLabel: true, hideOverlap: false},
    splitLine: {show: false}
  };
}
function makeY(i, gap) {
  return {
    type: 'value', gridIndex: i, min: -1, max: 1, interval: 0.2,
    name: yAxisName, nameLocation: 'middle', nameGap: gap, nameRotate: 90,
    nameTextStyle: {fontFamily: SANS, fontWeight: 'bold', fontSize: 12, color: '#000'},
    axisLine: {show: true, onZero: false, lineStyle: {color: AXIS_GRAY, width: 1.5}},
    axisTick: {show: true, inside: true, length: 4, lineStyle: {color: AXIS_GRAY, width: 1}},
    axisLabel: {fontFamily: SANS, fontWeight: 'bold', fontSize: 12.5, color: '#000', margin: 6,
      formatter: tickLabel(yTickValues, yTickLabels), showMinLabel: true, showMaxLabel: true, hideOverlap: false},
    splitLine: {show: false}
  };
}

function scatterSeries(i, data) {
  return {
    type: 'scatter', xAxisIndex: i, yAxisIndex: i, data: data,
    symbol: 'path://M0,0L10,10M10,0L0,10', symbolSize: 6,
    itemStyle: {color: 'none', borderColor: MARK_COLOR, borderWidth: 1.15, opacity: 1},
    emphasis: {disabled: true}, silent: true, z: 2
  };
}
function lineSeries(i) {
  return {
    type: 'line', xAxisIndex: i, yAxisIndex: i, data: identityLine,
    showSymbol: false, symbol: 'none', lineStyle: {color: '#808080', width: 2},
    emphasis: {disabled: true}, silent: true, z: 3
  };
}

const option = {
  backgroundColor: '#ffffff',
  animation: false,
  grid: grids,
  xAxis: [makeX(0), makeX(1)],
  yAxis: [makeY(0, 38), makeY(1, 35)],
  series: [
    scatterSeries(0, outputErrorPoints), lineSeries(0),
    scatterSeries(1, equationErrorPoints), lineSeries(1)
  ],
  graphic: [
    {type: 'text', x: 232, y: 19, style: {text: panelTitles[0], font: 'bold 13px ' + SANS, fill: '#000', align: 'center', verticalAlign: 'middle'}},
    {type: 'text', x: 733, y: 16, style: {text: panelTitles[1], font: 'bold 13px ' + SANS, fill: '#000', align: 'center', verticalAlign: 'middle'}},
    {type: 'rect', shape: {x: 125.5, y: 37.5, width: 134, height: 29}, style: {fill: '#fff', stroke: '#000', lineWidth: 1}, z: 10},
    {type: 'text', x: 131, y: 48, style: {text: correlationTexts[0], font: 'bold 13.3px ' + MONO, fill: '#000', verticalAlign: 'middle'}, z: 11},
    {type: 'rect', shape: {x: 619.5, y: 34.5, width: 127, height: 33}, style: {fill: '#fff', stroke: '#000', lineWidth: 1}, z: 10},
    {type: 'text', x: 624, y: 46, style: {text: correlationTexts[1], font: 'bold 13.3px ' + MONO, fill: '#000', verticalAlign: 'middle'}, z: 11},
    {type: 'text', x: 167, y: 462, style: {text: captions[0], font: '16px ' + SERIF, fill: '#000', align: 'center', verticalAlign: 'middle'}},
    {type: 'text', x: 705, y: 462, style: {text: captions[1], font: '16px ' + SERIF, fill: '#000', align: 'center', verticalAlign: 'middle'}}
  ]
};
chart.setOption(option);
</script>
</body>
</html>
